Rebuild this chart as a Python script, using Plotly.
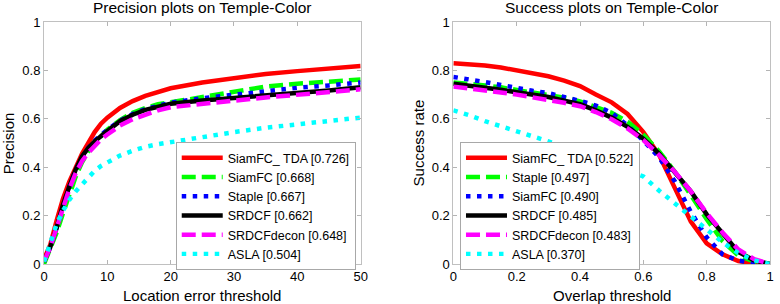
import plotly.graph_objects as go

# ---------------- data ----------------
prec_x = [0, 1, 2, 3, 4, 5, 6, 7, 8, 9, 10, 12, 14, 16, 18, 20, 25, 30, 35, 40, 45, 50]
prec_names = ["SiamFC_ TDA [0.726]", "SiamFC [0.668]", "Staple [0.667]",
              "SRDCF [0.662]", "SRDCFdecon [0.648]", "ASLA [0.504]"]
prec_red = [0.02, 0.08, 0.18, 0.27, 0.34, 0.40, 0.455, 0.50, 0.545, 0.58, 0.605, 0.645, 0.673, 0.695, 0.712, 0.726, 0.75, 0.768, 0.785, 0.797, 0.806, 0.818]
prec_green = [0.0, 0.06, 0.13, 0.21, 0.29, 0.36, 0.42, 0.465, 0.50, 0.53, 0.555, 0.595, 0.625, 0.645, 0.66, 0.668, 0.69, 0.712, 0.733, 0.745, 0.753, 0.762]
prec_blue = [0.01, 0.07, 0.15, 0.24, 0.32, 0.39, 0.44, 0.48, 0.51, 0.535, 0.555, 0.592, 0.62, 0.64, 0.655, 0.667, 0.685, 0.70, 0.715, 0.728, 0.738, 0.75]
prec_black = [0.01, 0.07, 0.15, 0.245, 0.32, 0.39, 0.445, 0.48, 0.507, 0.53, 0.55, 0.59, 0.617, 0.637, 0.65, 0.662, 0.676, 0.686, 0.695, 0.706, 0.717, 0.73]
prec_magenta = [0.01, 0.07, 0.15, 0.235, 0.31, 0.375, 0.425, 0.46, 0.49, 0.515, 0.535, 0.572, 0.598, 0.618, 0.635, 0.648, 0.663, 0.675, 0.688, 0.70, 0.71, 0.722]
prec_cyan = [0.01, 0.09, 0.165, 0.22, 0.265, 0.30, 0.33, 0.36, 0.385, 0.405, 0.42, 0.448, 0.468, 0.484, 0.495, 0.504, 0.525, 0.545, 0.563, 0.578, 0.592, 0.605]

succ_x = [0, 0.05, 0.1, 0.15, 0.2, 0.25, 0.3, 0.35, 0.4, 0.45, 0.5, 0.55, 0.6, 0.65, 0.7, 0.75, 0.8, 0.85, 0.9, 0.95, 1.0]
succ_names = ["SiamFC_ TDA [0.522]", "Staple [0.497]", "SiamFC [0.490]",
              "SRDCF [0.485]", "SRDCFdecon [0.483]", "ASLA [0.370]"]
succ_red = [0.83, 0.826, 0.82, 0.812, 0.80, 0.79, 0.776, 0.758, 0.735, 0.70, 0.668, 0.62, 0.545, 0.45, 0.315, 0.175, 0.085, 0.04, 0.012, 0.003, 0.0]
succ_green = [0.75, 0.745, 0.738, 0.73, 0.72, 0.71, 0.70, 0.687, 0.672, 0.65, 0.625, 0.588, 0.535, 0.465, 0.38, 0.285, 0.185, 0.095, 0.035, 0.01, 0.0]
succ_blue = [0.773, 0.764, 0.752, 0.74, 0.727, 0.716, 0.706, 0.692, 0.674, 0.655, 0.625, 0.572, 0.51, 0.44, 0.34, 0.215, 0.11, 0.04, 0.014, 0.004, 0.0]
succ_black = [0.745, 0.738, 0.73, 0.72, 0.71, 0.70, 0.69, 0.675, 0.66, 0.635, 0.605, 0.567, 0.518, 0.455, 0.38, 0.30, 0.205, 0.125, 0.05, 0.015, 0.0]
succ_magenta = [0.733, 0.726, 0.718, 0.709, 0.70, 0.69, 0.68, 0.666, 0.652, 0.628, 0.598, 0.56, 0.512, 0.45, 0.38, 0.30, 0.21, 0.13, 0.06, 0.02, 0.0]
succ_cyan = [0.635, 0.615, 0.59, 0.57, 0.548, 0.528, 0.507, 0.482, 0.458, 0.435, 0.412, 0.388, 0.362, 0.303, 0.25, 0.20, 0.143, 0.09, 0.045, 0.015, 0.0]

prec_ticks = [0, 10, 20, 30, 40, 50]
succ_ticks = [0, 0.2, 0.4, 0.6, 0.8, 1]
y_ticks = [0, 0.2, 0.4, 0.6, 0.8, 1]
y_ticktext = ["0", "0.2", "0.4", "0.6", "0.8", "1"]
succ_ticktext = ["0", "0.2", "0.4", "0.6", "0.8", "1"]

# ---------------- styles ----------------
FONT = "Liberation Sans, Arial, sans-serif"
LW = 4.5
DASH = "14px,6px"
DOT = "4.5px,6.5px"
styles = [("#ff0000", "solid"), ("#00ff00", DASH), ("#0000ff", DOT),
          ("#000000", "solid"), ("#ff00ff", DASH), ("#00ffff", DOT)]

fig = go.Figure()
for name, ys, (c, d) in zip(prec_names,
                            [prec_red, prec_green, prec_blue, prec_black, prec_magenta, prec_cyan],
                            styles):
    fig.add_trace(go.Scatter(x=prec_x, y=ys, mode="lines", name=name,
                             line=dict(color=c, width=LW, dash=d),
                             xaxis="x", yaxis="y", legend="legend"))
for name, ys, (c, d) in zip(succ_names,
                            [succ_red, succ_green, succ_blue, succ_black, succ_magenta, succ_cyan],
                            styles):
    fig.add_trace(go.Scatter(x=succ_x, y=ys, mode="lines", name=name,
                             line=dict(color=c, width=LW, dash=d),
                             xaxis="x2", yaxis="y2", legend="legend2"))

L, R, T, B = 44, 3, 22, 40
W, H = 780, 304
pw, ph = W - L - R, H - T - B


def px2x(p):
    return (p - L) / pw


def py2y(p):
    return (H - B - p) / ph


axis_common = dict(ticks="inside", ticklen=4, tickcolor="#b4b4b4", showline=True,
                   linecolor="#c0c0c0", linewidth=1, mirror="allticks", showgrid=False,
                   zeroline=False, tickfont=dict(family=FONT, size=13, color="black"))

legend_common = dict(xanchor="left", yanchor="top", bordercolor="#a8a8a8", borderwidth=1,
                     bgcolor="white", font=dict(family=FONT, size=12.5, color="black"),
                     itemwidth=41, tracegroupgap=0)

fig.update_layout(
    width=W, height=H, margin=dict(l=L, r=R, t=T, b=B),
    paper_bgcolor="white", plot_bgcolor="white",
    xaxis=dict(domain=[0, px2x(363.7)], range=[0, 50], tickvals=prec_ticks, anchor="y", **axis_common),
    yaxis=dict(domain=[0, 1], range=[0, 1], tickvals=y_ticks, ticktext=y_ticktext, anchor="x", **axis_common),
    xaxis2=dict(domain=[px2x(457.3), 1], range=[0, 1], tickvals=succ_ticks, ticktext=succ_ticktext, anchor="y2", **axis_common),
    yaxis2=dict(domain=[0, 1], range=[0, 1], tickvals=y_ticks, ticktext=y_ticktext, anchor="x2", **axis_common),
    legend=dict(x=px2x(177), y=py2y(142), **legend_common),
    legend2=dict(x=px2x(464), y=py2y(142), **legend_common),
    showlegend=True,
)

tfont = dict(family=FONT, size=15, color="black")
ann = [
    dict(text="Precision plots on Temple-Color", x=px2x(203.7), y=py2y(8), font=dict(tfont, size=15.5)),
    dict(text="Success plots on Temple-Color", x=px2x(617.3), y=py2y(8), font=dict(tfont, size=15.5)),
    dict(text="Location error threshold", x=px2x(203.7), y=py2y(295), font=tfont),
    dict(text="Overlap threshold", x=px2x(617.3), y=py2y(295), font=tfont),
    dict(text="Precision", x=px2x(8), y=py2y(143), textangle=-90, font=tfont),
    dict(text="Success rate", x=px2x(422), y=py2y(143), textangle=-90, font=tfont),
]
for a in ann:
    fig.add_annotation(xref="paper", yref="paper", showarrow=False,
                       xanchor="center", yanchor="middle", **a)

fig.write_html("out.html")
